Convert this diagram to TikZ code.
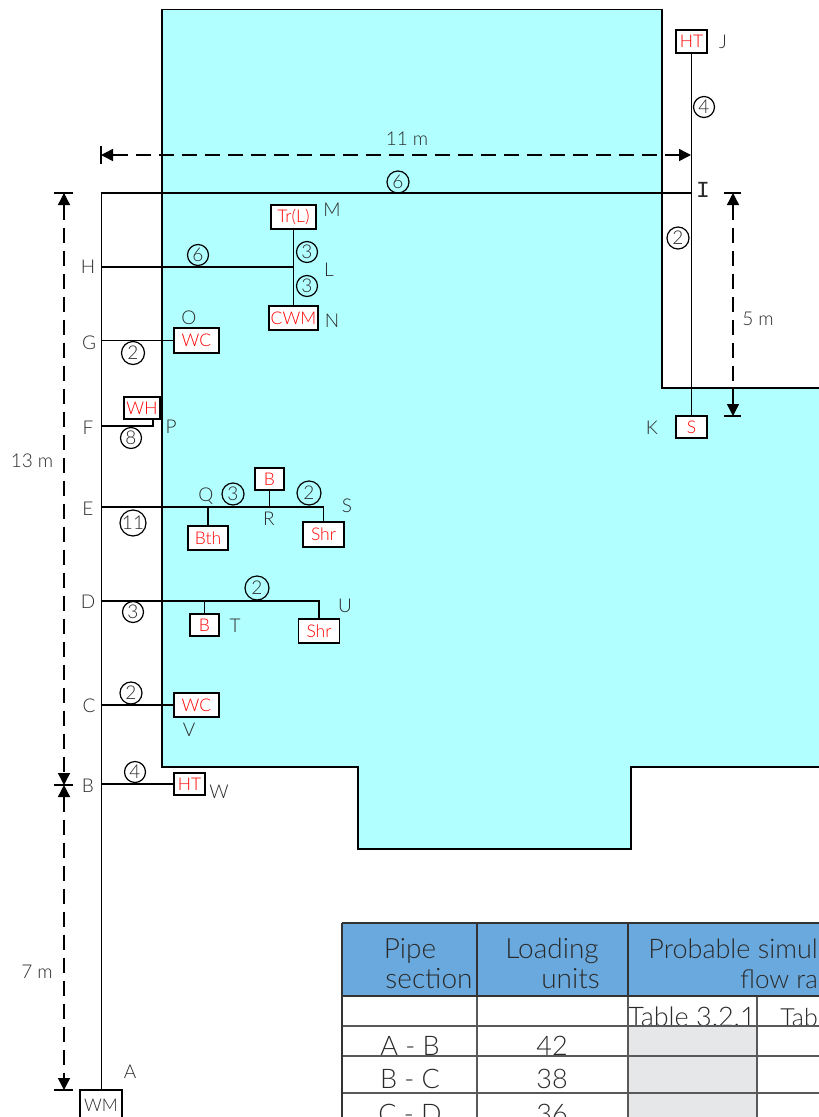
\documentclass[tikz,border=0pt]{standalone}
\usepackage{fontspec}
\usetikzlibrary{arrows.meta}
\setmainfont{Lato Light}
\newfontfamily\serifmono{Liberation Mono}
\definecolor{cyanroom}{HTML}{B2FFFF}
\definecolor{headblue}{HTML}{6AA9DD}
\definecolor{cellgray}{HTML}{E6E7E8}
\definecolor{inkgray}{HTML}{2A2A2A}
\newcommand{\fs}[1]{\fontsize{#1}{#1}\selectfont}
\tikzset{
  wall/.style={draw=black,line width=1.6pt},
  pipe/.style={draw=black,line width=1.6pt},
  box/.style={draw=black,fill=white,line width=1.6pt,text=red,inner sep=0pt,font=\fs{17.5}},
  num/.style={circle,draw=black,line width=1.2pt,inner sep=0pt,text=inkgray,font=\fs{19}},
  lab/.style={inner sep=0pt,text=inkgray,font=\fs{19}},
  dim/.style={draw=black,line width=1.4pt,dash pattern=on 15pt off 8pt,{Triangle[length=12pt,width=12pt]}-{Triangle[length=12pt,width=12pt]}},
  tick/.style={draw=black,line width=1.2pt},
  thead/.style={inner sep=0pt,text=inkgray,font=\fs{28},anchor=base},
  tcell/.style={inner sep=0pt,text=inkgray,font=\fs{27},anchor=base},
  tline/.style={draw=black!65,line width=1.2pt},
  theavy/.style={draw=black!80,line width=2pt}
}
\begin{document}
\begin{tikzpicture}[x=1pt,y=-1pt]
\useasboundingbox (0,0) rectangle (819,1117);
\clip (0,0) rectangle (819,1117);
% room
\draw[wall,fill=cyanroom] (819,388) -- (662,388) -- (662,9.5) -- (162,9.5) -- (162,767) -- (358,767) -- (358,849) -- (631,849) -- (631,767) -- (819,767);
% equipment
\node[box,minimum width=31pt,minimum height=23pt] (ht1) at (691.5,41.5) {HT};
\node[box,minimum width=31pt,minimum height=22pt] (s) at (691.5,427) {S};
\node[box,minimum width=45pt,minimum height=24pt] (trl) at (293.5,217) {Tr(L)};
\node[box,minimum width=49pt,minimum height=24pt] (cwm) at (293.5,318) {CWM};
\node[box,minimum width=45pt,minimum height=25pt] (wc1) at (196.5,340.5) {WC};
\node[box,minimum width=36pt,minimum height=22pt] (wh) at (142,408) {WH};
\node[box,minimum width=29pt,minimum height=22pt] (b1) at (269.5,479) {B};
\node[box,minimum width=40pt,minimum height=24pt] (bth) at (208,538) {Bth};
\node[box,minimum width=41pt,minimum height=25pt] (shr1) at (323.5,534.5) {Shr};
\node[box,minimum width=29pt,minimum height=22pt] (b2) at (204.5,625) {B};
\node[box,minimum width=41pt,minimum height=24pt] (shr2) at (319,631) {Shr};
\node[box,minimum width=45pt,minimum height=24pt] (wc2) at (196.5,705) {WC};
\node[box,minimum width=31pt,minimum height=22pt] (ht2) at (189.5,784) {HT};
\node[box,minimum width=42pt,minimum height=30pt,text=inkgray] (wm) at (101,1105) {WM};
% junctions
\coordinate (jI) at (691.5,193);
\coordinate (jTop) at (101.5,193);
\coordinate (jH) at (101.5,267);
\coordinate (jL) at (293.5,267);
\coordinate (jG) at (101.5,340.5);
\coordinate (jF) at (101.5,426);
\coordinate (jP) at (153,426);
\coordinate (jE) at (101.5,507);
\coordinate (jD) at (101.5,601);
\coordinate (jC) at (101.5,705);
\coordinate (jB) at (101.5,784);
% pipes
\draw[pipe] (jTop |- wm.north) -- (jTop) -- (jI);
\draw[pipe] (ht1.south) -- (s.north);
\draw[pipe] (jH) -- (jL);
\draw[pipe] (trl.south) -- (cwm.north);
\draw[pipe] (jG) -- (wc1.west);
\draw[pipe] (jF) -- (jP) -- (jP |- wh.south);
\draw[pipe] (jE) -| (shr1.north);
\draw[pipe] (bth.north) -- (bth.north |- jE);
\draw[pipe] (b1.south) -- (b1.south |- jE);
\draw[pipe] (jD) -| (shr2.north);
\draw[pipe] (b2.north) -- (b2.north |- jD);
\draw[pipe] (jC) -- (wc2.west);
\draw[pipe] (jB) -- (ht2.west);
% pipe sizes
\node[num,minimum size=22pt] (n1) at (398,182) {6};
\node[num,minimum size=21pt] (n2) at (704,107) {4};
\node[num,minimum size=22pt] (n3) at (678,238) {2};
\node[num,minimum size=21pt] (n4) at (198,255) {6};
\node[num,minimum size=21pt] (n5) at (307,252) {3};
\node[num,minimum size=21pt] (n6) at (307,286) {3};
\node[num,minimum size=23pt] (n7) at (133,353) {2};
\node[num,minimum size=21pt] (n8) at (131,438) {8};
\node[num,minimum size=26pt] (n9) at (133,523) {11};
\node[num,minimum size=22pt] (n10) at (233,494) {3};
\node[num,minimum size=24pt] (n11) at (309,493) {2};
\node[num,minimum size=24pt] (n12) at (257,588) {2};
\node[num,minimum size=21pt] (n13) at (133,612) {3};
\node[num,minimum size=22pt] (n14) at (131,693) {2};
\node[num,minimum size=21pt] (n15) at (135,772) {4};
% letters
\node[lab] (lJ) at (723,42) {J};
\node[lab] (lM) at (332,210) {M};
\node[lab] (lL) at (329,270) {L};
\node[lab] (lN) at (332,321) {N};
\node[lab] (lH) at (88,267) {H};
\node[lab] (lO) at (189,318) {O};
\node[lab] (lG) at (89,343) {G};
\node[lab] (lF) at (88,428) {F};
\node[lab] (lP) at (171,427) {P};
\node[lab] (lE) at (88,509) {E};
\node[lab] (lQ) at (206,496) {Q};
\node[lab] (lR) at (269,519) {R};
\node[lab] (lS) at (347,506) {S};
\node[lab] (lD) at (88,602) {D};
\node[lab] (lT) at (235,626) {T};
\node[lab] (lU) at (345,606) {U};
\node[lab] (lC) at (89,706) {C};
\node[lab] (lV) at (189,730) {V};
\node[lab] (lB) at (88,786) {B};
\node[lab] (lW) at (219,792) {W};
\node[lab] (lA) at (130,1072) {A};
\node[lab] (lK) at (652,428) {K};
\node[lab,font=\fs{23}\serifmono] (lI) at (703,190) {I};
% dimensions
\coordinate (d11a) at (101,155); \coordinate (d11b) at (691,155);
\draw[dim] (d11a) -- (d11b);
\coordinate (t11a) at (101,146); \coordinate (t11b) at (101,164);
\draw[tick] (t11a) -- (t11b);
\coordinate (d13a) at (64,193); \coordinate (d13b) at (64,785); \coordinate (d7b) at (64,1090);
\draw[dim] (d13a) -- (d13b);
\draw[dim] (d13b) -- (d7b);
\coordinate (t1a) at (54,193); \coordinate (t1b) at (73,193);
\coordinate (t2a) at (54,785); \coordinate (t2b) at (73,785);
\coordinate (t3a) at (54,1090); \coordinate (t3b) at (73,1090);
\draw[tick] (t1a) -- (t1b); \draw[tick] (t2a) -- (t2b); \draw[tick] (t3a) -- (t3b);
\coordinate (d5a) at (733,193); \coordinate (d5b) at (733,416);
\draw[dim] (d5a) -- (d5b);
\coordinate (t4a) at (724,193); \coordinate (t4b) at (741,193);
\coordinate (t5a) at (724,416); \coordinate (t5b) at (741,416);
\draw[tick] (t4a) -- (t4b); \draw[tick] (t5a) -- (t5b);
\node[lab] (m11) at (407,139) {11 m};
\node[lab] (m13) at (32,461) {13 m};
\node[lab] (m7) at (37,972) {7 m};
\node[lab] (m5) at (758,319) {5 m};
% table
\fill[headblue] (342,923) rectangle (819,996);
\fill[cellgray] (628,1026) rectangle (757,1117);
\node[thead] (h1) at (410,958) {Pipe};
\node[thead] (h2) at (429,988) {section};
\node[thead] (h3) at (552,958) {Loading};
\node[thead,anchor=base east] (h4) at (600,988) {units};
\node[thead,anchor=base east,font=\fs{27}] (h5) at (818,958) {Probable simul};
\node[thead,anchor=base east,font=\fs{26}] (h6) at (818,988) {flow ra};
\node[tcell,anchor=base] (c0) at (692,1026) {Table 3.2.1};
\node[tcell,anchor=base east,font=\fs{25}] (c00) at (818,1026) {Tab};
\node[tcell] (c1) at (410,1055) {A - B};
\node[tcell] (c2) at (552,1055) {42};
\node[tcell] (c3) at (410,1088) {B - C};
\node[tcell] (c4) at (552,1088) {38};
\node[tcell] (c5) at (410,1123) {C - D};
\node[tcell] (c6) at (552,1123) {36};
\foreach \yy in {1026,1056,1093}{\draw[tline] (342,\yy) -- (819,\yy);}
\draw[tline] (757,996) -- (757,1117);
\draw[tline] (477,996) -- (477,1117);
\draw[tline] (628,996) -- (628,1117);
\draw[theavy] (477,923) -- (477,996);
\draw[theavy] (628,923) -- (628,996);
\draw[theavy] (342,923) -- (819,923);
\draw[theavy] (342,996) -- (819,996);
\draw[theavy] (342,923) -- (342,1117);
\end{tikzpicture}
\end{document}
